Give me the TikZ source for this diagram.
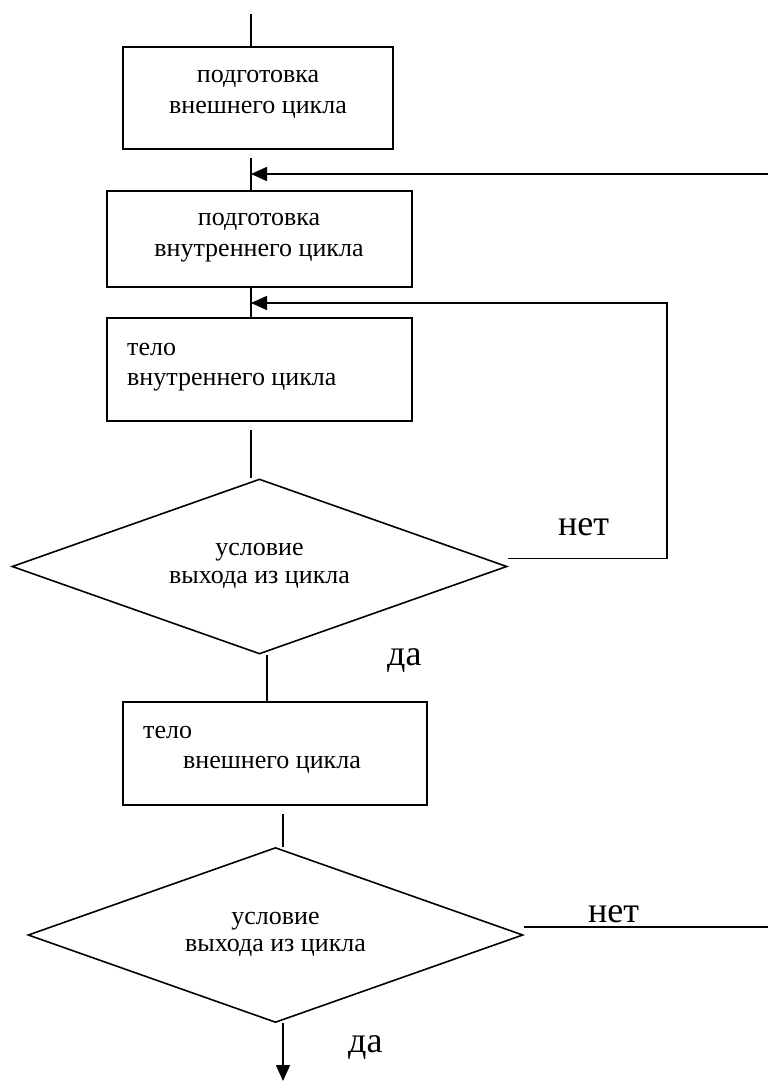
\documentclass[tikz,border=0pt]{standalone}
\usepackage{fontspec}
\setmainfont{Liberation Serif}
\usetikzlibrary{shapes.geometric,arrows.meta}
\begin{document}
\begin{tikzpicture}[x=1pt,y=-1pt,
  ln/.style={line width=1.6pt},
  arr/.style={ln,-{Triangle[length=16pt,width=14pt]}},
  box/.style={draw,ln,rectangle,inner sep=0pt},
  dia/.style={draw,ln,diamond,inner sep=0pt,minimum width=495pt,minimum height=175pt},
  txt/.style={font=\fontsize{26}{31}\selectfont,inner sep=0pt,anchor=base},
  txtw/.style={txt,anchor=base west},
  lab/.style={font=\fontsize{36}{40}\selectfont,inner sep=0pt,anchor=base west}]
\fill[white] (0,0) rectangle (768,1082);
\useasboundingbox (0,0) rectangle (768,1082);

% boxes and decisions
\node[box,minimum width=270pt,minimum height=102pt] (b1) at (258,98) {};
\node[txt] (b1a) at (258,82) {подготовка};
\node[txt] (b1b) at (258,113) {внешнего цикла};

\node[box,minimum width=305pt,minimum height=96pt] (b2) at (259.5,239) {};
\node[txt] (b2a) at (259,225) {подготовка};
\node[txt] (b2b) at (259,256) {внутреннего цикла};

\node[box,minimum width=305pt,minimum height=103pt] (b3) at (259.5,369.5) {};
\node[txtw] (b3a) at (127,355) {тело};
\node[txtw] (b3b) at (127,385) {внутреннего цикла};

\node[dia] (d1) at (259.5,566.5) {};
\node[txt] (d1a) at (259.5,555) {условие};
\node[txt] (d1b) at (259.5,583) {выхода из цикла};

\node[box,minimum width=304pt,minimum height=103pt] (b4) at (275,753.5) {};
\node[txtw] (b4a) at (143,738) {тело};
\node[txtw] (b4b) at (183,768) {внешнего цикла};

\node[dia] (d2) at (275.5,935) {};
\node[txt] (d2a) at (275.5,924) {условие};
\node[txt] (d2b) at (275.5,951) {выхода из цикла};

% labels
\node[lab] (no1) at (558,535) {нет};
\node[lab] (yes1) at (387,665) {да};
\node[lab] (no2) at (588,922) {нет};
\node[lab] (yes2) at (348,1052) {да};

% connector points
\coordinate (s0) at (251,14);
\coordinate (j1) at (251,158);
\coordinate (oR) at (768,174);
\coordinate (j3) at (251,430);
\coordinate (n1) at ([yshift=8pt]d1.east);
\coordinate (r1) at (667,303);
\coordinate (j4) at ([xshift=7.5pt]d1.south);
\coordinate (j5) at (283,814);
\coordinate (j6) at ([xshift=7.5pt]d2.south);
\coordinate (e6) at (283,1081);
\coordinate (n2) at ([yshift=8pt]d2.east);
\coordinate (oR2) at (768,927);

% connectors
\draw[ln] (s0) -- (s0 |- b1.north);
\draw[ln] (j1) -- (j1 |- b2.north);
\draw[arr] (oR) -- (oR -| j1);
\draw[ln] (j1 |- b2.south) -- (j1 |- b3.north);
\draw[arr] (n1) -| (r1) -- (r1 -| j1);
\draw[ln] (j3) -- (j3 |- d1.north);
\draw[ln] (j4) -- (j4 |- b4.north);
\draw[ln] (j5) -- (j5 |- d2.north);
\draw[arr] (j6) -- (e6);
\draw[ln] (n2) -- (oR2);
\end{tikzpicture}
\end{document}
